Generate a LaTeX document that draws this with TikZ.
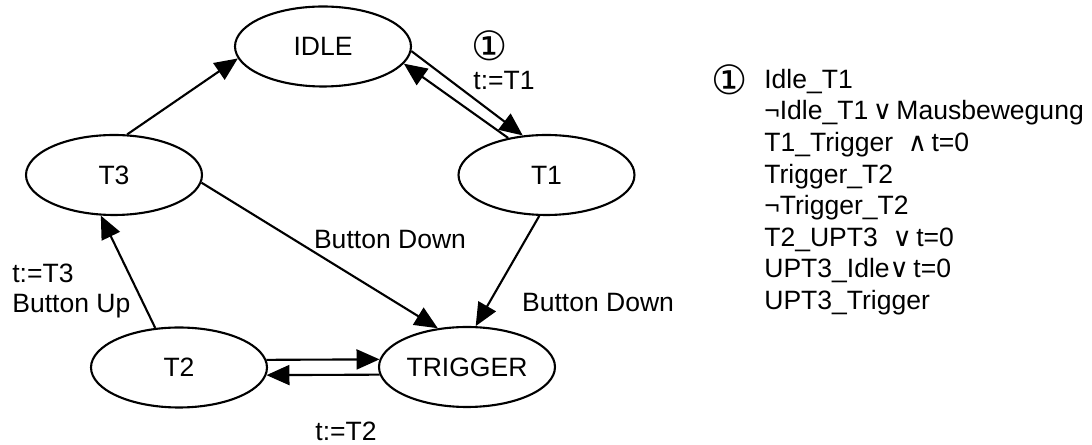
\documentclass[tikz,border=0pt]{standalone}
\usepackage{fontspec}
\setmainfont{Liberation Sans}
\newfontfamily\symfont{DejaVu Sans}
\usetikzlibrary{arrows.meta, shapes.geometric}

% small logic signs for the guard list
\newcommand{\orsym}{{\symfont\fontsize{15}{15}\selectfont ∨}}
\newcommand{\andsym}{{\symfont\fontsize{15}{15}\selectfont ∧}}
\newcommand{\circone}{{\symfont\fontsize{23}{23}\selectfont ①}}

\begin{document}
\begin{tikzpicture}[
  x=0.02cm, y=-0.02cm,
  %--- shared styles ----------------------------------------------
  statebox/.style={
    ellipse, draw=black, line width=1.2pt,
    minimum width=3.52cm, minimum height=1.6cm,
    inner sep=0pt, font=\fontsize{15.1}{18}\selectfont
  },
  lbl/.style={
    inner sep=0pt, align=left, font=\fontsize{15.1}{18}\selectfont
  },
  arr/.style={-{Triangle[length=0.46cm, width=0.4cm]}, line width=1.2pt},
]
\useasboundingbox (0,0) rectangle (1092,445);

%% --- states -----------------------------------------------------
\node[statebox] (idle)   at (323, 46.5) {IDLE};
\node[statebox] (tthree) at (114, 175)  {T3};
\node[statebox] (tone)   at (546.5, 175) {T1};
\node[statebox] (ttwo)   at (179, 367.5) {T2};
\node[statebox] (trig)   at (467, 367)  {TRIGGER};

%% --- transitions ------------------------------------------------
% idle <-> T1 (pair of parallel lines)
\draw[arr] (idle.-3.3) -- (tone.121.7);
\draw[arr] (tone.136) -- (idle.-12.4);
% T3 -> idle
\draw[arr] (tthree.72) -- (idle.188);
% T3 / T1 -> trigger
\draw[arr] (tthree.-5) -- (trig.127.6);
\draw[arr] (tone.-100.6) -- (trig.78.7);
% T2 -> T3
\draw[arr] (ttwo.121) -- (tthree.-108);
% T2 <-> trigger
\draw[arr] (ttwo.5) -- (trig.175);
\draw[arr] (trig.-175) -- (ttwo.-5);

%% --- edge labels ------------------------------------------------
\node[lbl] (lcirc) at (490, 46) {\circone};
\node[lbl] (lton)  at (504, 80) {t:=T1};
\node[lbl] (lbd1)  at (390, 240) {Button Down};
\node[lbl] (lbd2)  at (598, 303) {Button Down};
\node[lbl, anchor=west] (lup) at (12, 291) {t:=T3\\[-1pt]Button Up};
\node[lbl] (lttwo) at (346, 431) {t:=T2};

%% --- guard list -------------------------------------------------
\node[lbl] (keyone) at (730, 80) {\circone};
\node[lbl, anchor=west] (guards) at (764, 192)
  {Idle\_T1\\
   ¬Idle\_T1\,\orsym\,Mausbewegung\\
   T1\_Trigger\ \ \andsym\,t=0\\
   Trigger\_T2\\
   ¬Trigger\_T2\\
   T2\_UPT3\ \ \orsym\,t=0\\
   UPT3\_Idle\orsym\,t=0\\
   UPT3\_Trigger};

\end{tikzpicture}
\end{document}
